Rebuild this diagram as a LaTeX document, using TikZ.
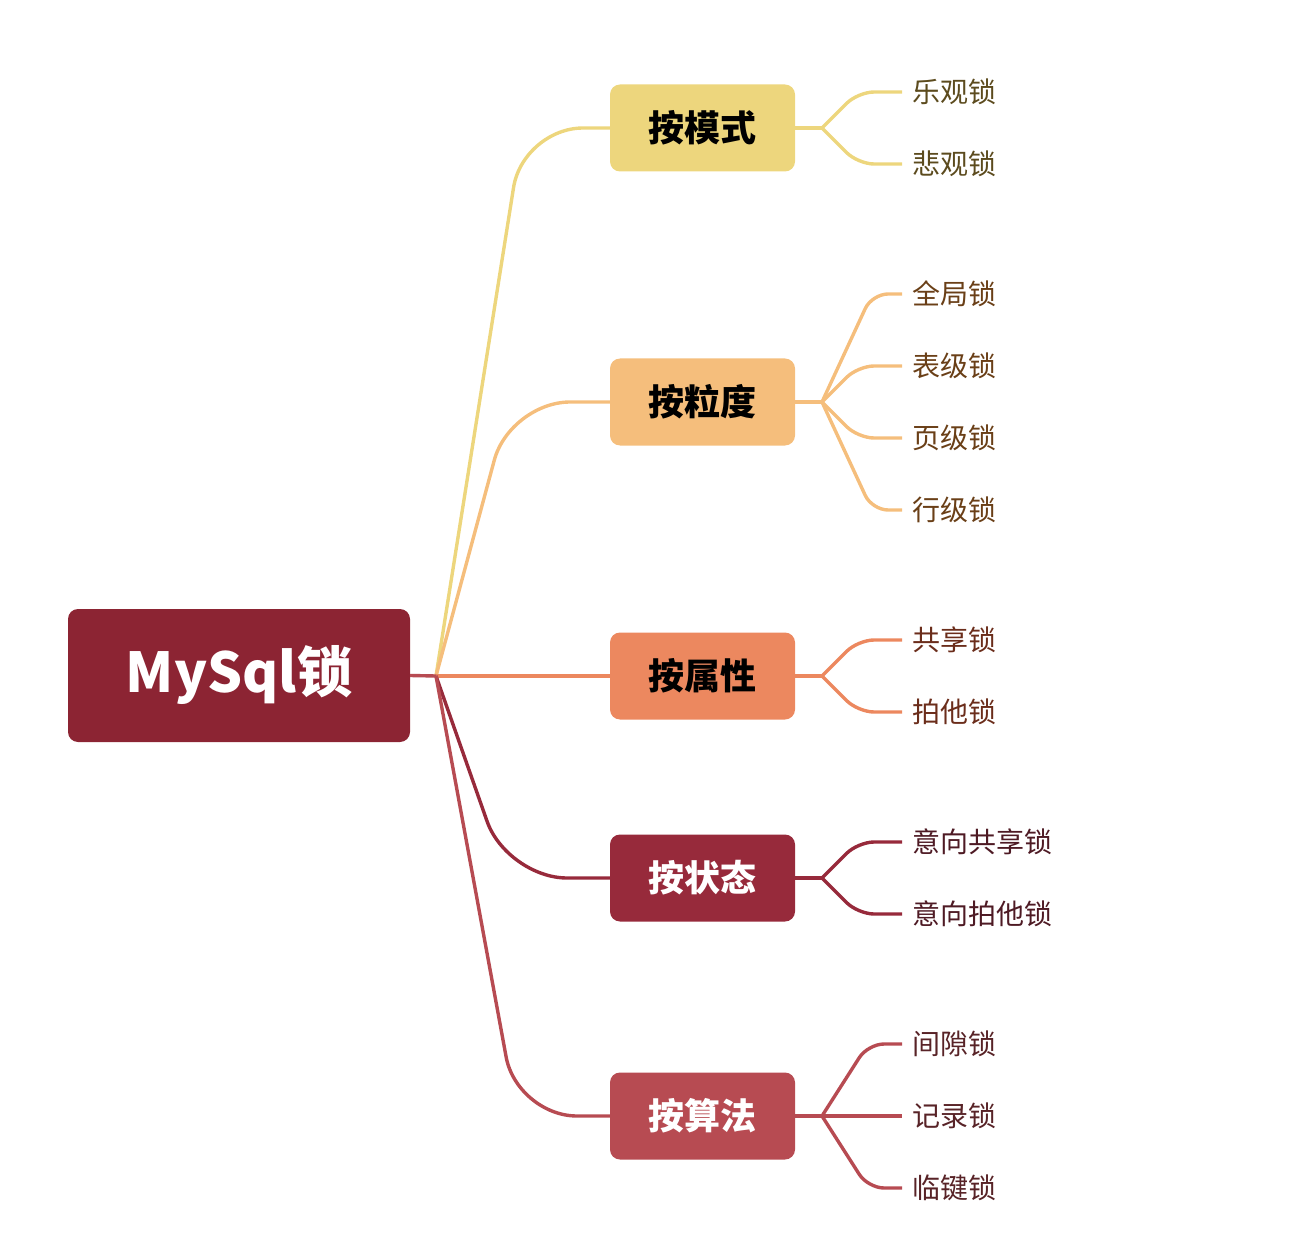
\documentclass[tikz,border=0pt]{standalone}
\usepackage{fontspec}
\newfontfamily\cjk{Noto Sans CJK SC}
\definecolor{rootc}{HTML}{8C2433}
\definecolor{c1}{HTML}{EDD67D}
\definecolor{c2}{HTML}{F5BE7C}
\definecolor{c3}{HTML}{EC885F}
\definecolor{c4}{HTML}{972A3B}
\definecolor{c5}{HTML}{B74B52}
\definecolor{t1}{HTML}{5C4B1E}
\definecolor{t2}{HTML}{6A3F17}
\definecolor{t3}{HTML}{6B2D1B}
\definecolor{t4}{HTML}{4E1A24}
\definecolor{t5}{HTML}{582327}
\tikzset{
  catbox/.style={rounded corners=10pt, minimum width=185pt, minimum height=87pt, inner sep=0pt, font=\cjk\bfseries\fontsize{36}{40}\selectfont},
  leaf/.style={anchor=west, inner sep=0pt, font=\cjk\fontsize{28}{32}\selectfont},
  branch/.style={line width=3.4pt, rounded corners=60pt},
  twig/.style={line width=3.4pt, rounded corners=16pt},
  stub/.style={line width=3.4pt},
}
\begin{document}
\begin{tikzpicture}[x=1pt,y=-1pt]
\useasboundingbox (0,0) rectangle (1304,1246);
% root
\node[fill=rootc, rounded corners=10pt, minimum width=342pt, minimum height=133pt, inner sep=0pt, text=white, font=\cjk\bfseries\fontsize{55}{60}\selectfont] (root) at (239,675.5) {MySql锁};
\coordinate (J) at (436,676);
% categories
\node[catbox, fill=c1, text=black] (m) at (702.5,128) {按模式};
\node[catbox, fill=c2, text=black] (g) at (702.5,402) {按粒度};
\node[catbox, fill=c3, text=black] (s) at (702.5,676) {按属性};
\node[catbox, fill=c4, text=white] (z) at (702.5,878) {按状态};
\node[catbox, fill=c5, text=white] (f) at (702.5,1116) {按算法};
% leaves
\node[leaf, text=t1] (m1) at (912,92) {乐观锁};
\node[leaf, text=t1] (m2) at (912,164) {悲观锁};
\node[leaf, text=t2] (g1) at (912,294) {全局锁};
\node[leaf, text=t2] (g2) at (912,366) {表级锁};
\node[leaf, text=t2] (g3) at (912,438) {页级锁};
\node[leaf, text=t2] (g4) at (912,510) {行级锁};
\node[leaf, text=t3] (s1) at (912,640) {共享锁};
\node[leaf, text=t3] (s2) at (912,712) {拍他锁};
\node[leaf, text=t4] (z1) at (912,842) {意向共享锁};
\node[leaf, text=t4] (z2) at (912,914) {意向拍他锁};
\node[leaf, text=t5] (f1) at (912,1044) {间隙锁};
\node[leaf, text=t5] (f2) at (912,1116) {记录锁};
\node[leaf, text=t5] (f3) at (912,1188) {临键锁};
% main branches
\draw[branch, c1] (J) -- (523,128) -- (m.west);
\draw[branch, c2] (J) -- (510,402) -- (g.west);
\draw[branch, c3] (J) -- (s.west);
\draw[branch, c4] (J) -- (507,878) -- (z.west);
\draw[branch, c5] (J) -- (517,1116) -- (f.west);
\draw[stub, c5] (root.east) -- (J);
% twigs
\coordinate (mj) at (822,128);
\coordinate (gj) at (822,402);
\coordinate (sj) at (822,676);
\coordinate (zj) at (822,878);
\coordinate (fj) at (822,1116);
\draw[stub, c1] (m.east) -- (mj);
\draw[twig, c1] (mj) -- (858,92) -- ([xshift=-10pt]m1.west);
\draw[twig, c1] (mj) -- (858,164) -- ([xshift=-10pt]m2.west);
\draw[stub, c2] (g.east) -- (gj);
\draw[twig, c2] (gj) -- (872,294) -- ([xshift=-10pt]g1.west);
\draw[twig, c2] (gj) -- (858,366) -- ([xshift=-10pt]g2.west);
\draw[twig, c2] (gj) -- (858,438) -- ([xshift=-10pt]g3.west);
\draw[twig, c2] (gj) -- (872,510) -- ([xshift=-10pt]g4.west);
\draw[stub, c3] (s.east) -- (sj);
\draw[twig, c3] (sj) -- (858,640) -- ([xshift=-10pt]s1.west);
\draw[twig, c3] (sj) -- (858,712) -- ([xshift=-10pt]s2.west);
\draw[stub, c4] (z.east) -- (zj);
\draw[twig, c4] (zj) -- (858,842) -- ([xshift=-10pt]z1.west);
\draw[twig, c4] (zj) -- (858,914) -- ([xshift=-10pt]z2.west);
\draw[stub, c5] (f.east) -- (fj);
\draw[twig, c5] (fj) -- (868,1044) -- ([xshift=-10pt]f1.west);
\draw[twig, c5] (fj) -- ([xshift=-10pt]f2.west);
\draw[twig, c5] (fj) -- (868,1188) -- ([xshift=-10pt]f3.west);
\end{tikzpicture}
\end{document}
